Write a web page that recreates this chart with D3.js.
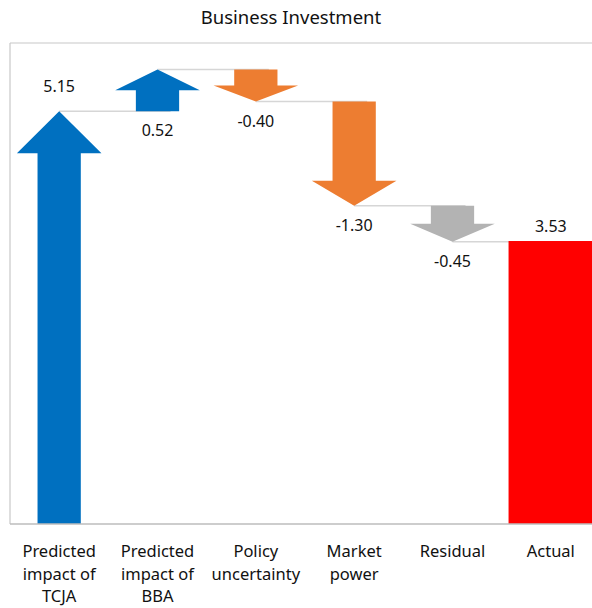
<!DOCTYPE html>
<html>
<head>
<meta charset="utf-8">
<script src="https://cdn.jsdelivr.net/npm/d3@7"></script>
<style>
  body { margin: 0; background: #fff; }
  text { font-family: "Noto Sans", "Open Sans", sans-serif; fill: #111; }
</style>
</head>
<body>
<div id="chart"></div>
<script>
// chart data
var categories = [
  ["Predicted", "impact of", "TCJA"],
  ["Predicted", "impact of", "BBA"],
  ["Policy", "uncertainty"],
  ["Market", "power"],
  ["Residual"],
  ["Actual"]
];
var values = [5.15, 0.52, -0.40, -1.30, -0.45, 3.53];
var labels = ["5.15", "0.52", "-0.40", "-1.30", "-0.45", "3.53"];
var kinds = ["start", "step", "step", "step", "step", "total"];

// styles
var colors = ["#0070C0", "#0070C0", "#ED7D31", "#ED7D31", "#B3B3B3", "#FF0000"];
var headCap = [42, 42, 42, 25, 42, 0];

var W = 592, H = 608;
var svg = d3.select("#chart").append("svg")
  .attr("width", W)
  .attr("height", H);

var x = d3.scaleBand()
  .domain(d3.range(categories.length))
  .range([10, 600])
  .padding(0);

var y = d3.scaleLinear()
  .domain([0, 6])
  .range([524, 43]);

// running totals for the waterfall
var rows = [];
var running = 0;
values.forEach(function(v, i) {
  var from, to;
  if (kinds[i] == "total") { from = 0; to = v; }
  else { from = running; to = running + v; }
  running = to;
  rows.push({ i: i, from: from, to: to, value: v });
});

// plot border
svg.append("line").attr("x1", 10).attr("x2", W).attr("y1", 43).attr("y2", 43)
  .attr("stroke", "#c8c8c8").attr("stroke-width", 1.2);
svg.append("line").attr("x1", 10).attr("x2", 10).attr("y1", 43).attr("y2", 524)
  .attr("stroke", "#c8c8c8").attr("stroke-width", 1.2);

// connector lines
svg.selectAll(".conn")
  .data(rows.slice(0, rows.length - 1))
  .enter()
  .append("line")
  .attr("x1", function(d) { return x(d.i) + x.bandwidth() / 2; })
  .attr("x2", function(d) { return x(d.i + 1) + x.bandwidth() / 2 + 13; })
  .attr("y1", function(d) { return y(d.to); })
  .attr("y2", function(d) { return y(d.to); })
  .attr("stroke", "#d6d6d6")
  .attr("stroke-width", 1.5);

function arrowPath(d) {
  var cx = x(d.i) + x.bandwidth() / 2;
  var sw = x.bandwidth() * 0.44 / 2;
  var hw = x.bandwidth() * 0.86 / 2;
  var y0 = y(d.from), y1 = y(d.to);
  var len = Math.abs(y1 - y0);
  var head = Math.min(len / 2, headCap[d.i]);
  var dir = y1 < y0 ? 1 : -1; // 1 = pointing up
  var yb = y1 + dir * head;
  return "M" + (cx - sw) + "," + y0 +
    "L" + (cx - sw) + "," + yb +
    "L" + (cx - hw) + "," + yb +
    "L" + cx + "," + y1 +
    "L" + (cx + hw) + "," + yb +
    "L" + (cx + sw) + "," + yb +
    "L" + (cx + sw) + "," + y0 + "Z";
}

// arrows
svg.selectAll(".arrow")
  .data(rows.filter(function(d) { return kinds[d.i] != "total"; }))
  .enter()
  .append("path")
  .attr("d", arrowPath)
  .attr("fill", function(d) { return colors[d.i]; });

// total bar
svg.selectAll(".bar")
  .data(rows.filter(function(d) { return kinds[d.i] == "total"; }))
  .enter()
  .append("rect")
  .attr("x", function(d) { return x(d.i) + x.bandwidth() * 0.07; })
  .attr("width", x.bandwidth() * 0.86)
  .attr("y", function(d) { return y(d.to); })
  .attr("height", function(d) { return y(0) - y(d.to); })
  .attr("fill", function(d) { return colors[d.i]; });

// bottom axis line
svg.append("line").attr("x1", 10).attr("x2", W).attr("y1", 524).attr("y2", 524)
  .attr("stroke", "#bcbcbc").attr("stroke-width", 1.5);

// value labels
svg.selectAll(".val")
  .data(rows)
  .enter()
  .append("text")
  .attr("text-anchor", "middle")
  .attr("font-size", 16)
  .attr("x", function(d) { return x(d.i) + x.bandwidth() / 2; })
  .attr("y", function(d) {
    if (kinds[d.i] == "start") return y(d.to) - 19;
    if (kinds[d.i] == "total") return y(d.to) - 9;
    return y(Math.min(d.from, d.to)) + 25;
  })
  .text(function(d) { return labels[d.i]; });

// category labels
var cat = svg.selectAll(".cat")
  .data(categories)
  .enter()
  .append("text")
  .attr("text-anchor", "middle")
  .attr("font-size", 16.5)
  .attr("x", function(d, i) { return x(i) + x.bandwidth() / 2; })
  .attr("y", 557);
cat.selectAll("tspan")
  .data(function(d, i) { return d.map(function(t) { return { t: t, i: i }; }); })
  .enter()
  .append("tspan")
  .attr("x", function(d) { return x(d.i) + x.bandwidth() / 2; })
  .attr("dy", function(d, j) { return j == 0 ? 0 : 22.5; })
  .text(function(d) { return d.t; });

// title
svg.append("text")
  .attr("x", 291)
  .attr("y", 24)
  .attr("text-anchor", "middle")
  .attr("font-size", 18.5)
  .text("Business Investment");
</script>
</body>
</html>
